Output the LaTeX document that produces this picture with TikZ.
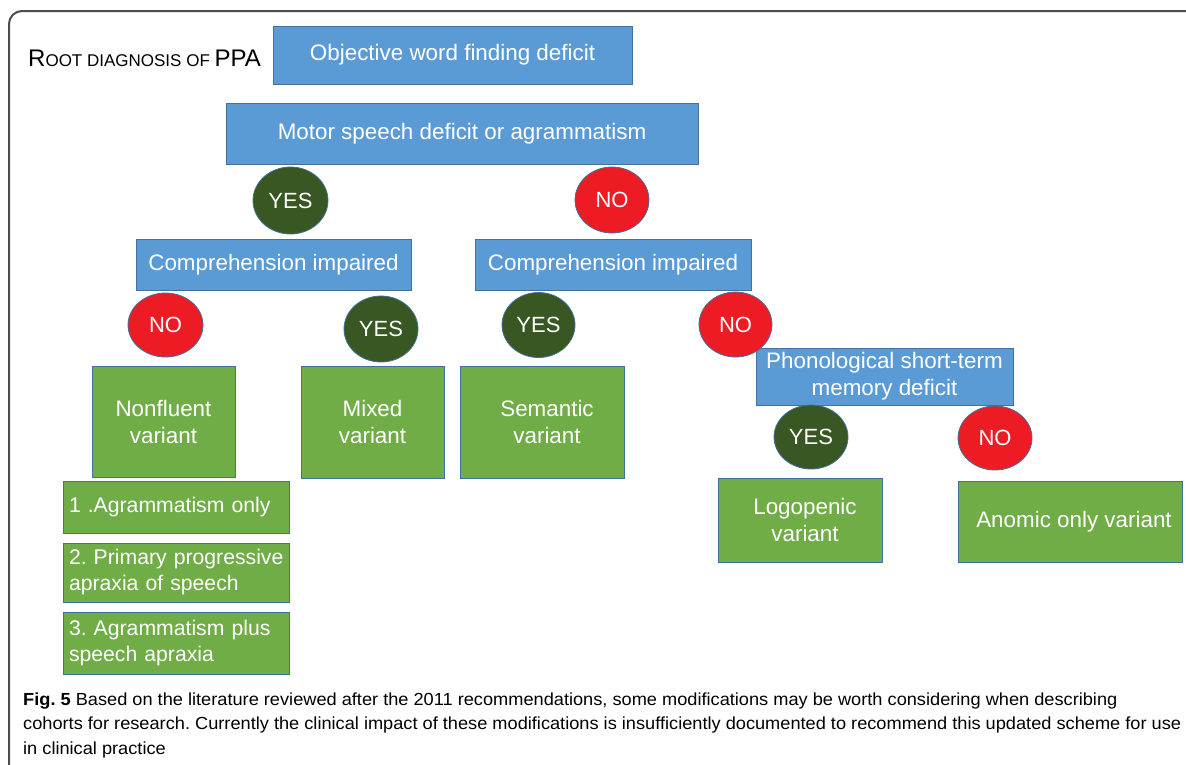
\documentclass[tikz,border=0pt]{standalone}
\usepackage{fontspec}
\setmainfont{Liberation Sans}
\newfontfamily\capfont[FakeStretch=1.04]{Liberation Sans}
\usetikzlibrary{shapes.geometric}
\frenchspacing
\definecolor{boxblue}{HTML}{5B9BD5}
\definecolor{boxgreen}{HTML}{70AD47}
\definecolor{darkgreen}{HTML}{385723}
\definecolor{yesred}{HTML}{ED1C24}
\definecolor{edgeblue}{HTML}{41719C}
\definecolor{framegray}{HTML}{4D4D4D}
\tikzset{
  base/.style={draw=edgeblue, line width=0.8pt, text=white, inner sep=0pt, align=center,
    font=\fontsize{22.4}{27}\selectfont},
  bbox/.style={base, rectangle, fill=boxblue},
  gbox/.style={base, rectangle, fill=boxgreen},
  subbox/.style={base, rectangle, fill=boxgreen, align=left, text width=214pt, inner xsep=6pt,
    font=\fontsize{21.2}{26}\selectfont},
  yescirc/.style={base, ellipse, fill=darkgreen, font=\fontsize{22}{22}\selectfont},
  nocirc/.style={base, ellipse, fill=yesred, font=\fontsize{22}{22}\selectfont},
  capstyle/.style={inner sep=0pt, anchor=base west, text=black, font=\capfont\fontsize{17.5}{24}\selectfont},
}
\begin{document}
\begin{tikzpicture}[x=1pt,y=-1pt]
\useasboundingbox (0,0) rectangle (1186,764);
% frame
\draw[framegray, line width=2pt, rounded corners=13pt] (9,790) -- (9,11) -- (1200,11);
% title
\node[anchor=base west, inner sep=0pt, text=black] (title) at (28,66)
  {\fontsize{24}{24}\selectfont R\fontsize{17}{17}\selectfont OOT DIAGNOSIS OF \fontsize{24}{24}\selectfont PPA};
% blue decision boxes
\node[bbox, minimum width=359, minimum height=58] (obj) at (452.5,55) {Objective word finding deficit};
\node[bbox, minimum width=472, minimum height=61] (motor) at (462,133.5) {Motor speech deficit or agrammatism};
\node[bbox, minimum width=275, minimum height=51] (compL) at (273.5,264.5) {Comprehension impaired};
\node[bbox, minimum width=276, minimum height=51] (compR) at (613,264.5) {Comprehension impaired};
\node[bbox, minimum width=257, minimum height=57] (phono) at (884.5,376.5) {Phonological short-term\\memory deficit};
% answer circles
\node[yescirc, minimum width=75, minimum height=67] (yes1) at (290.5,200.5) {YES};
\node[nocirc, minimum width=74, minimum height=66] (no1) at (612,200) {NO};
\node[nocirc, minimum width=75, minimum height=64] (noA) at (165.5,325) {NO};
\node[yescirc, minimum width=74, minimum height=66] (yesB) at (381,329) {YES};
\node[yescirc, minimum width=73, minimum height=65] (yesC) at (538.5,325) {YES};
\node[nocirc, minimum width=73, minimum height=65] (noD) at (735.5,324.5) {NO};
\node[yescirc, minimum width=74, minimum height=64] (yesE) at (811,437) {YES};
\node[nocirc, minimum width=74, minimum height=64] (noF) at (995,438) {NO};
% outcome boxes
\node[gbox, minimum width=143, minimum height=111] (nonfl) at (163.5,421.5) {Nonfluent\\variant};
\node[gbox, minimum width=143, minimum height=112] (mixed) at (372.5,422) {Mixed\\variant};
\node[gbox, minimum width=164, minimum height=112] (sem) at (542,422) {\hspace*{10pt}Semantic\\\hspace*{10pt}variant};
\node[gbox, minimum width=164, minimum height=84] (logo) at (800,520) {\hspace*{10pt}Logopenic\\\hspace*{10pt}variant};
\node[gbox, minimum width=224, minimum height=81] (anom) at (1070,521.5) {\hspace*{8pt}Anomic only variant};
% nonfluent subtypes
\node[subbox, minimum height=52] (sub1) at (176,507) {\mbox{1 .Agrammatism only}};
\node[subbox, minimum height=59] (sub2) at (176,572.5) {\mbox{2. Primary progressive}\\\mbox{apraxia of speech}};
\node[subbox, minimum height=62] (sub3) at (176,643) {\mbox{3. Agrammatism plus}\\\mbox{speech apraxia}};
% caption
\node[capstyle] (cap1) at (23,705) {{\bfseries Fig. 5} Based on the literature reviewed after the 2011 recommendations, some modifications may be worth considering when describing};
\node[capstyle] (cap2) at (23,729.5) {cohorts for research. Currently the clinical impact of these modifications is insufficiently documented to recommend this updated scheme for use};
\node[capstyle] (cap3) at (23,754) {in clinical practice};
\end{tikzpicture}
\end{document}
